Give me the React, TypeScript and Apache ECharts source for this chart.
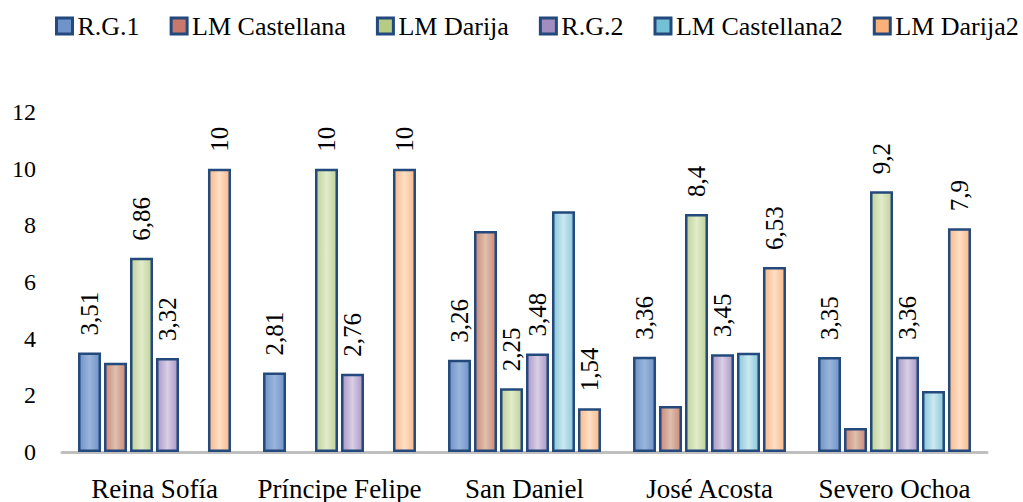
import React, { useEffect, useRef } from "react";
import * as echarts from "echarts";

const categories = ["Reina Sofía", "Príncipe Felipe", "San Daniel", "José Acosta", "Severo Ochoa"];
const seriesNames = ["R.G.1", "LM Castellana", "LM Darija", "R.G.2", "LM Castellana2", "LM Darija2"];
const rg1 = [3.51, 2.81, 3.26, 3.36, 3.35];
const lmCastellana = [3.15, null, 7.8, 1.62, 0.85];
const lmDarija = [6.86, 10, 2.25, 8.4, 9.2];
const rg2 = [3.32, 2.76, 3.48, 3.45, 3.36];
const lmCastellana2 = [null, null, 8.5, 3.5, 2.15];
const lmDarija2 = [10, 10, 1.54, 6.53, 7.9];
const yTicks = { min: 0, max: 12, interval: 2 };

const seriesData = [rg1, lmCastellana, lmDarija, rg2, lmCastellana2, lmDarija2];
const showLabels = [true, false, true, true, false, true];
const edgeColors = ["#6F93C8", "#CB8878", "#BFD296", "#AA96C5", "#86C8DA", "#F8B888"];
const centerColors = ["#9AB5DB", "#DEC0AE", "#E2EBCD", "#D8CFE5", "#CCE8F0", "#FDDFC6"];
const legendColors = ["#6E94CA", "#C9786C", "#B6CB84", "#A28DC0", "#74C1D6", "#F9B079"];
const borderColor = "#23497D";
const font = "Liberation Serif";

export default function App() {
  const ref = useRef<HTMLDivElement>(null);
  useEffect(() => {
    document.body.style.margin = "0";
    const chart = echarts.init(ref.current!, null, { renderer: "svg" });
    chart.setOption({
      animation: false,
      textStyle: { fontFamily: font },
      legend: {
        left: 55,
        top: 13,
        width: 966,
        padding: 0,
        itemWidth: 16,
        itemHeight: 16,
        itemGap: 30,
        textStyle: { fontFamily: font, fontSize: 26, color: "#000" },
        data: seriesNames.map((n, i) => ({
          name: n,
          icon: "rect",
          itemStyle: { color: legendColors[i], borderColor, borderWidth: 3 },
        })),
      },
      grid: { left: 62, right: 36, top: 112, bottom: 50 },
      xAxis: {
        type: "category",
        data: categories,
        axisLine: { lineStyle: { color: "#BFBFBF", width: 3 } },
        axisTick: { show: false },
        axisLabel: { fontFamily: font, fontSize: 27, color: "#000", margin: 23, interval: 0 },
      },
      yAxis: {
        type: "value",
        min: yTicks.min,
        max: yTicks.max,
        interval: yTicks.interval,
        axisLine: { show: false },
        axisTick: { show: false },
        splitLine: { show: false },
        axisLabel: { fontFamily: font, fontSize: 24, color: "#000", margin: 26 },
      },
      series: seriesNames.map((n, i) => ({
        name: n,
        type: "bar",
        data: seriesData[i].map((v) => (v === null ? "-" : v)),
        barWidth: 23,
        barGap: "13%",
        itemStyle: {
          color: new echarts.graphic.LinearGradient(0, 0, 1, 0, [
            { offset: 0, color: edgeColors[i] },
            { offset: 0.5, color: centerColors[i] },
            { offset: 1, color: edgeColors[i] },
          ]),
          borderColor,
          borderWidth: 2.5,
        },
        label: {
          show: showLabels[i],
          position: "top",
          rotate: 90,
          align: "left",
          verticalAlign: "middle",
          distance: 17,
          fontFamily: font,
          fontSize: 25,
          color: "#000",
          formatter: (p: any) => String(p.value).replace(".", ","),
        },
      })),
    });
    return () => chart.dispose();
  }, []);
  return <div ref={ref} style={{ width: 1023, height: 502 }} />;
}
